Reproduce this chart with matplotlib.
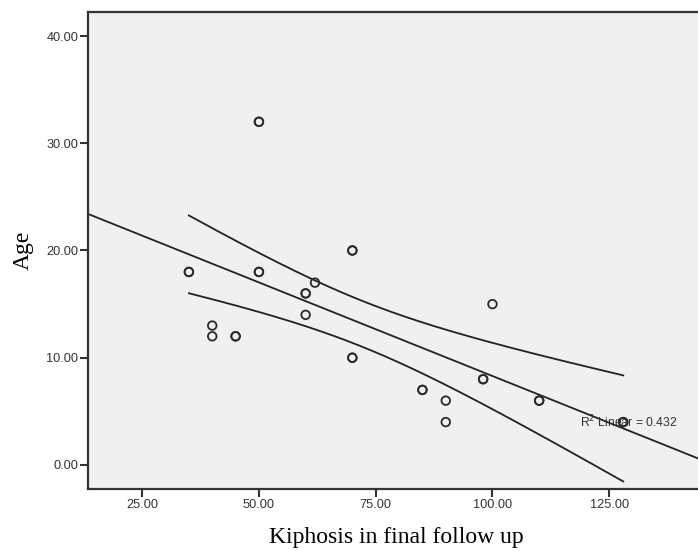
import numpy as np
import matplotlib
matplotlib.use("Agg")
import matplotlib.pyplot as plt

# Data (darker circles are overlapping duplicate cases)
kyphosis = [35, 35, 50, 50, 50, 50, 40, 40, 45, 45, 60, 60, 60, 62, 70, 70, 70, 70,
            85, 85, 90, 90, 98, 98, 100, 110, 110, 128, 128]
age = [18, 18, 32, 32, 18, 18, 13, 12, 12, 12, 16, 16, 14, 17, 20, 20, 10, 10,
       7, 7, 6, 4, 8, 8, 15, 6, 6, 4, 4]
x_ticks = [25, 50, 75, 100, 125]
y_ticks = [0, 10, 20, 30, 40]
r2_label = "R$^2$ Linear = 0.432"

x = np.array(kyphosis, float)
y = np.array(age, float)
n = len(x)
slope, intercept = np.polyfit(x, y, 1)
resid = y - (slope * x + intercept)
s = np.sqrt(np.sum(resid**2) / (n - 2))
t975 = 2.052  # t(0.975, df=27)
xm = x.mean()
sxx = np.sum((x - xm) ** 2)

fig = plt.figure(figsize=(6.98, 5.51), dpi=100)
ax = fig.add_axes([88/698, 1 - 489/551, 1 - 88/698 + 0.01, (489 - 12)/551])
ax.set_facecolor("#f0f0f0")
xlim = (13.4, 145.5)
ax.set_xlim(*xlim)
ax.set_ylim(-2.24, 42.24)

# Fit line across the full axis
xl = np.linspace(xlim[0], xlim[1], 200)
ax.plot(xl, slope * xl + intercept, color="#222222", lw=1.3, zorder=2)
# 95% confidence band of the mean over the data range
xc = np.linspace(x.min(), x.max(), 200)
yc = slope * xc + intercept
half = t975 * s * np.sqrt(1 / n + (xc - xm) ** 2 / sxx)
ax.plot(xc, yc + half, color="#222222", lw=1.3, zorder=2)
ax.plot(xc, yc - half, color="#222222", lw=1.3, zorder=2)

ax.scatter(x, y, s=38, facecolors="none", edgecolors="#2a2a2a", linewidths=1.3, zorder=3)

ax.text(118.7, 4.0, r2_label, fontsize=8.7, family="Liberation Sans", color="#333333",
        va="center", ha="left", zorder=4)

ax.set_xticks(x_ticks)
ax.set_xticklabels([f"{v:.2f}" for v in x_ticks])
ax.set_yticks(y_ticks)
ax.set_yticklabels([f"{v:.2f}" for v in y_ticks])
for lab in ax.get_xticklabels() + ax.get_yticklabels():
    lab.set_family("Liberation Sans")
    lab.set_fontsize(9.2)
    lab.set_color("#333333")
ax.tick_params(direction="out", length=6, width=1.5, color="#333333", pad=1)

for side in ["left", "bottom", "top"]:
    ax.spines[side].set_linewidth(1.6)
    ax.spines[side].set_color("#333333")
ax.spines["right"].set_visible(False)

ax.set_xlabel("Kiphosis in final follow up", family="Liberation Serif", fontsize=17, labelpad=12)
ax.set_ylabel("Age", family="Liberation Serif", fontsize=17, labelpad=9)

fig.savefig("out.png", dpi=100)
